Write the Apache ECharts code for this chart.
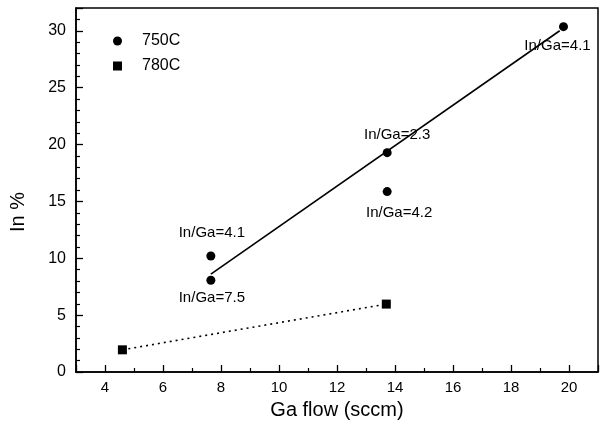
<!DOCTYPE html>
<html>
<head>
<meta charset="utf-8">
<script src="https://cdn.jsdelivr.net/npm/echarts@6/dist/echarts.min.js"></script>
<style>html,body{margin:0;padding:0;background:#fff}#c{width:600px;height:428px}</style>
</head>
<body>
<div id="c"></div>
<script>
// 750C points
var x750 = [7.65, 7.65, 13.73, 13.73, 19.81];
var y750 = [10.2, 8.07, 19.28, 15.86, 30.36];
var labels750 = ['In/Ga=4.1', 'In/Ga=7.5', 'In/Ga=2.3', 'In/Ga=4.2', 'In/Ga=4.1'];
// 780C points
var x780 = [4.6, 13.7];
var y780 = [1.95, 5.97];
// fitted line for 750C (endpoints)
var fitX = [7.65, 19.68];
var fitY = [8.6, 30.0];
var seriesNames = ['750C', '780C'];

var labelOffsets = [[1, -23], [1, 18], [10, -18], [12, 21], [-6, 19]];
var FONT = 'Liberation Sans, Arial, sans-serif';

var d750 = x750.map(function (x, i) {
  return {
    value: [x, y750[i]],
    label: { show: true, formatter: labels750[i], position: 'inside', offset: labelOffsets[i],
      color: '#000', fontSize: 15, fontFamily: FONT }
  };
});
var d780 = x780.map(function (x, i) { return [x, y780[i]]; });
var dFit = fitX.map(function (x, i) { return [x, fitY[i]]; });

var chart = echarts.init(document.getElementById('c'), null, { renderer: 'canvas' });
chart.setOption({
  animation: false,
  backgroundColor: '#fff',
  textStyle: { fontFamily: FONT },
  grid: { left: 76, right: 2, top: 8, bottom: 56, show: true, borderColor: '#000', borderWidth: 1.5 },
  legend: {
    orient: 'vertical', left: 113, top: 33, padding: 0, itemGap: 9,
    itemWidth: 9, itemHeight: 9,
    data: [{ name: seriesNames[0], icon: 'circle' }, { name: seriesNames[1], icon: 'rect' }],
    textStyle: { color: '#000', fontSize: 16, fontFamily: FONT, padding: [0, 0, 0, 15] }
  },
  xAxis: {
    type: 'value', min: 3, max: 21, splitNumber: 9,
    name: 'Ga flow (sccm)', nameLocation: 'middle', nameGap: 28,
    nameTextStyle: { color: '#000', fontSize: 20, fontFamily: FONT },
    axisLine: { lineStyle: { color: '#000', width: 1.5 } },
    axisTick: { inside: true, length: 7, lineStyle: { color: '#000', width: 1.3 } },
    minorTick: { show: true, splitNumber: 2, length: 4, lineStyle: { color: '#000', width: 1.2 } },
    axisLabel: { color: '#000', fontSize: 15, margin: 8, showMinLabel: false, showMaxLabel: false, fontFamily: FONT },
    splitLine: { show: false }
  },
  yAxis: {
    type: 'value', min: 0, max: 32, interval: 5,
    name: 'In %', nameLocation: 'middle', nameGap: 48,
    nameTextStyle: { color: '#000', fontSize: 20, fontFamily: FONT, padding: [0, 44, 0, 0] },
    axisLine: { lineStyle: { color: '#000', width: 1.5 } },
    axisTick: { inside: true, length: 7, lineStyle: { color: '#000', width: 1.3 } },
    minorTick: { show: true, splitNumber: 5, length: 4, lineStyle: { color: '#000', width: 1.2 } },
    axisLabel: { color: '#000', fontSize: 16, margin: 10, showMaxLabel: false, fontFamily: FONT },
    splitLine: { show: false }
  },
  series: [
    {
      name: seriesNames[0], type: 'scatter', symbol: 'circle', symbolSize: 9,
      itemStyle: { color: '#000', opacity: 1 }, data: d750, z: 3
    },
    {
      name: seriesNames[1], type: 'scatter', symbol: 'rect', symbolSize: 9,
      itemStyle: { color: '#000', opacity: 1 }, data: d780, z: 3
    },
    {
      name: 'fit', type: 'line', data: dFit, symbol: 'none',
      lineStyle: { color: '#000', width: 1.6 }, silent: true
    },
    {
      name: 'link780', type: 'line', data: d780, symbol: 'none',
      lineStyle: { color: '#000', width: 1.6, type: [2, 4] }, silent: true
    }
  ]
});
</script>
</body>
</html>
